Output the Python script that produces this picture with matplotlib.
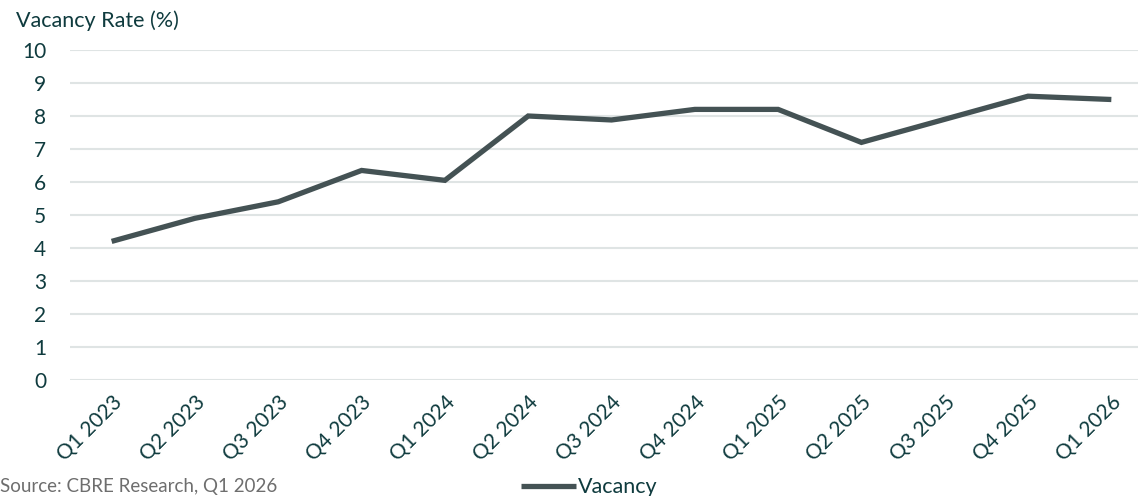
import matplotlib
matplotlib.use('Agg')
import matplotlib.pyplot as plt

quarters = ['Q1 2023', 'Q2 2023', 'Q3 2023', 'Q4 2023', 'Q1 2024', 'Q2 2024', 'Q3 2024',
            'Q4 2024', 'Q1 2025', 'Q2 2025', 'Q3 2025', 'Q4 2025', 'Q1 2026']
vacancy = [4.2, 4.9, 5.4, 6.35, 6.05, 8.0, 7.88, 8.2, 8.2, 7.2, 7.9, 8.6, 8.5]
y_ticks = list(range(0, 11))

TEXT = '#0f3b3e'
LINE = '#445254'
GRID = '#dfe4e4'

plt.rcParams['font.family'] = ['Lato', 'DejaVu Sans']

fig = plt.figure(figsize=(11.38, 4.96), dpi=100)
ax = fig.add_axes([70 / 1138, 116 / 496, 1083 / 1138, 330 / 496])

x = list(range(len(quarters)))
line, = ax.plot(x, vacancy, color=LINE, linewidth=3.8, solid_joinstyle='miter',
                solid_capstyle='butt', label='Vacancy', zorder=3)

ax.set_xlim(-0.5, len(quarters) - 0.5)
ax.set_ylim(0, 10)
ax.set_yticks(y_ticks)
ax.set_yticklabels([str(v) for v in y_ticks])
ax.set_xticks(x)
ax.set_xticklabels(quarters, rotation=45, ha='right', rotation_mode='anchor')
ax.tick_params(axis='both', length=0, labelsize=15, colors=TEXT)
ax.tick_params(axis='y', pad=17)
ax.tick_params(axis='x', pad=9)
ax.grid(axis='y', color=GRID, linewidth=1.5)
ax.set_axisbelow(True)
for s in ax.spines.values():
    s.set_visible(False)

fig.text(16 / 1138, 1 - 27 / 496, 'Vacancy Rate (%)', fontsize=15.5, color=TEXT, ha='left', va='baseline')
fig.text(0, 1 - 492 / 496, 'Source: CBRE Research, Q1 2026', fontsize=13.5, color='#6e6e6e',
         ha='left', va='baseline')

fig.legend(handles=[line], loc='lower left', bbox_to_anchor=(502 / 1138, -0.042), frameon=False,
           fontsize=15.5, handlelength=2.55, handletextpad=0.1, labelcolor=TEXT)

fig.savefig('out.png', dpi=100)
